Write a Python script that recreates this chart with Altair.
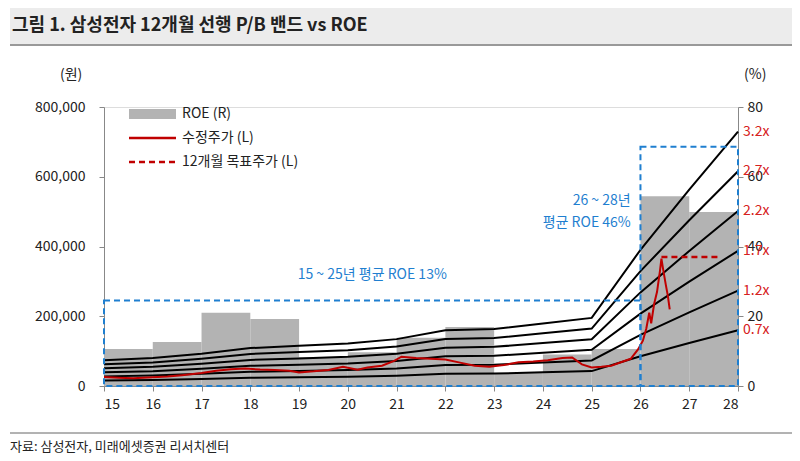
import altair as alt
import pandas as pd

FONT = "Noto Sans CJK KR"

# ROE (%) per year, bar from year to year+1
roe_year = [15, 16, 17, 18, 19, 20, 21, 22, 23, 24, 25, 26, 27]
roe_val = [10.6, 12.6, 21.0, 19.2, 8.3, 9.7, 13.8, 16.9, 3.7, 9.0, 10.6, 54.4, 49.9]

# 12M forward BPS (원) used for the P/B band
bps_year = [15, 16, 17, 18, 19, 20, 21, 22, 23, 24, 25, 26, 27, 28]
bps_val = [23000, 25000, 29000, 34000, 36000, 38000, 42000, 50000, 51000, 56000, 61000, 122000, 176000, 228000]
multiples = [0.7, 1.2, 1.7, 2.2, 2.7, 3.2]

# adjusted share price (원)
px_t = [15.0, 15.3, 15.6, 16.0, 16.3, 16.6, 17.0, 17.3, 17.6, 17.9, 18.2, 18.5, 18.8, 19.0, 19.3, 19.6,
        19.9, 20.2, 20.4, 20.7, 20.95, 21.1, 21.4, 21.7, 22.0, 22.3, 22.6, 22.9, 23.2, 23.5, 23.8,
        24.1, 24.4, 24.6, 24.8, 25.0, 25.2, 25.4, 25.6, 25.8, 25.95, 26.05, 26.12, 26.18, 26.22,
        26.28, 26.34, 26.4, 26.43, 26.47, 26.52, 26.56, 26.6]
px_v = [26000, 24000, 22000, 25000, 27000, 31000, 37000, 44000, 48000, 50000, 47000, 46000, 44000, 39000, 42000, 46000,
        55000, 47000, 53000, 58000, 72000, 84000, 80000, 78000, 76000, 67000, 58000, 55000, 60000, 68000, 70000,
        74000, 80000, 82000, 62000, 53000, 55000, 58000, 68000, 78000, 105000, 130000, 165000, 210000, 180000,
        235000, 270000, 330000, 365000, 330000, 290000, 260000, 220000]

target_t = [26.43, 27.6]
target_v = [370000, 370000]

roe_df = pd.DataFrame({"x": roe_year, "x2": [y + 1 for y in roe_year], "roe": roe_val})
band_df = pd.DataFrame([
    {"x": y, "m": m, "v": b * m} for m in multiples for y, b in zip(bps_year, bps_val)
])
lab_df = pd.DataFrame({"x": [28] * len(multiples), "v": [bps_val[-1] * m for m in multiples],
                       "t": [f"{m}x" for m in multiples]})
px_df = pd.DataFrame({"x": px_t, "v": px_v})
tg_df = pd.DataFrame({"x": target_t, "v": target_v})

xs = alt.Scale(domain=[15, 28], nice=False)
xax = alt.Axis(values=list(range(15, 29)), format="d", title=None, grid=False, labelFontSize=14,
               labelColor="#222", domainColor="#888", tickColor="#888", labelPadding=6, labelFont=FONT)
ys = alt.Scale(domain=[0, 800000], nice=False)
yax = alt.Axis(values=list(range(0, 800001, 200000)), format=",d", title=None, grid=False, labelFontSize=14,
               labelColor="#222", domainColor="#888", tickColor="#888", labelPadding=14, labelFont=FONT)

bars = alt.Chart(roe_df).mark_rect(color="#b3b3b3").encode(
    x=alt.X("x:Q", scale=xs, axis=xax), x2="x2",
    y=alt.Y("roe:Q", scale=alt.Scale(domain=[0, 80], nice=False),
            axis=alt.Axis(orient="right", values=[0, 20, 40, 60, 80], title=None, grid=False,
                          labelFontSize=14, labelColor="#222", domainColor="#888", tickColor="#888",
                          labelPadding=4, labelFont=FONT)),
    y2=alt.datum(0),
)

bands = alt.Chart(band_df).mark_line(color="black", strokeWidth=2).encode(
    x=alt.X("x:Q", scale=xs, axis=xax),
    y=alt.Y("v:Q", scale=ys, axis=yax), detail="m:N")

price = alt.Chart(px_df).mark_line(color="#c00000", strokeWidth=2).encode(
    x=alt.X("x:Q", scale=xs), y=alt.Y("v:Q", scale=ys))
target = alt.Chart(tg_df).mark_line(color="#c00000", strokeWidth=2.5, strokeDash=[6, 4]).encode(
    x=alt.X("x:Q", scale=xs), y=alt.Y("v:Q", scale=ys))

box_df = pd.DataFrame({"x": [15, 26], "x2": [26, 28], "y": [0, 0], "y2": [245000, 686000]})
boxes = alt.Chart(box_df).mark_rect(fill=None, stroke="#1f7fd0", strokeWidth=2, strokeDash=[6, 4]).encode(
    x=alt.X("x:Q", scale=xs), x2="x2", y=alt.Y("y:Q", scale=ys), y2="y2")

mlabels = alt.Chart(lab_df).mark_text(align="left", dx=5, color="#d62020", fontSize=14, font=FONT).encode(
    x=alt.X("x:Q", scale=xs), y=alt.Y("v:Q", scale=ys), text="t:N")

ann_df = pd.DataFrame({"x": [20.5, 25.8, 25.8], "v": [318000, 530000, 468000],
                       "t": ["15 ~ 25년 평균 ROE 13%", "26 ~ 28년", "평균 ROE 46%"]})
ann1 = alt.Chart(ann_df.iloc[[0]]).mark_text(color="#1f7fd0", fontSize=14, font=FONT).encode(
    x=alt.X("x:Q", scale=xs), y=alt.Y("v:Q", scale=ys), text="t:N")
ann2 = alt.Chart(ann_df.iloc[1:]).mark_text(color="#1f7fd0", fontSize=14, font=FONT, align="right").encode(
    x=alt.X("x:Q", scale=xs), y=alt.Y("v:Q", scale=ys), text="t:N")

one = pd.DataFrame({"i": [0]})


def px_text(txt, x, y, size=14, weight="normal", color="#222"):
    return alt.Chart(one).mark_text(align="left", baseline="middle", font=FONT, fontSize=size,
                                    fontWeight=weight, color=color, text=txt).encode(
        x=alt.value(x), y=alt.value(y))


# legend
leg_box = alt.Chart(one).mark_rect(color="#b3b3b3").encode(
    x=alt.value(25), x2=alt.value(72), y=alt.value(2), y2=alt.value(12))
leg_l1 = alt.Chart(one).mark_rule(color="#c00000", strokeWidth=2.5).encode(
    x=alt.value(25), x2=alt.value(72), y=alt.value(31))
leg_l2 = alt.Chart(one).mark_rule(color="#c00000", strokeWidth=2.5, strokeDash=[6, 4]).encode(
    x=alt.value(25), x2=alt.value(72), y=alt.value(55))

# header / footer
header = alt.Chart(one).mark_rect(color="#ececec").encode(
    x=alt.value(-94), x2=alt.value(688), y=alt.value(-100), y2=alt.value(-62))
header_line = alt.Chart(one).mark_rule(color="#999", strokeWidth=2).encode(
    x=alt.value(-94), x2=alt.value(688), y=alt.value(-62))
footer_line = alt.Chart(one).mark_rule(color="#666").encode(
    x=alt.value(-94), x2=alt.value(688), y=alt.value(326))

left = alt.layer(bands, price, target, boxes, mlabels, ann1, ann2)
chart = alt.layer(bars, left).resolve_scale(y="independent")
chart = alt.layer(
    chart, leg_box, leg_l1, leg_l2,
    px_text("ROE (R)", 78, 7), px_text("수정주가 (L)", 78, 31), px_text("12개월 목표주가 (L)", 78, 55),
    header, header_line,
    px_text("그림 1. 삼성전자 12개월 선행 P/B 밴드 vs ROE", -92, -81, 18, "bold"),
    px_text("(원)", -44, -32), px_text("(%)", 640, -32),
    footer_line, px_text("자료: 삼성전자, 미래에셋증권 리서치센터", -94, 340, 13),
).properties(
    width=634, height=279, autosize="none",
    padding={"left": 96, "top": 99, "right": 54, "bottom": 67},
).configure_view(stroke=None).configure(background="white")

chart.save("out.html", embed_options={"renderer": "svg", "actions": False})
